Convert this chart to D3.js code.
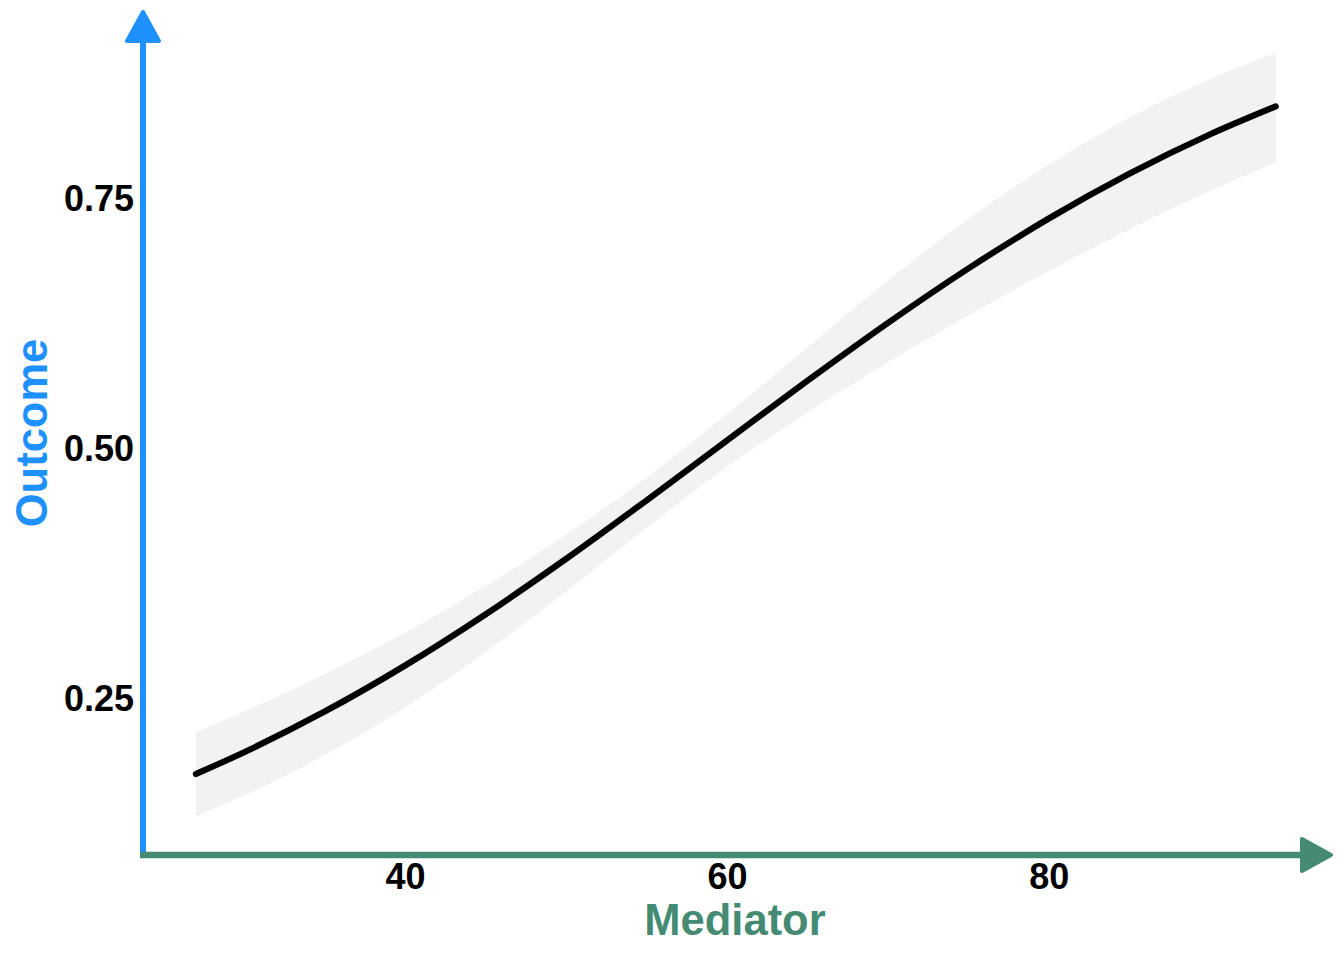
<!DOCTYPE html>
<html>
<head>
<meta charset="utf-8">
<script src="https://cdn.jsdelivr.net/npm/d3@7"></script>
<style>
  html, body { margin: 0; padding: 0; background: #ffffff; }
  svg { display: block; }
  text { font-family: "Liberation Sans", Arial, Helvetica, sans-serif; font-weight: bold; }
</style>
</head>
<body>
<svg id="chart" width="1344" height="960"></svg>
<script>
// ---- data ----
const mediator = [27, 30, 35, 40, 45, 50, 55, 60, 65, 70, 75, 80, 85, 90, 94.1];
const outcome  = [0.1740, 0.1958, 0.2364, 0.2825, 0.3337, 0.3891, 0.4476, 0.5075, 0.5672, 0.6250, 0.6795, 0.7295, 0.7742, 0.8135, 0.8416];
const lower    = [0.1319, 0.1527, 0.1930, 0.2406, 0.2960, 0.3566, 0.4201, 0.4812, 0.5355, 0.5857, 0.6328, 0.6768, 0.7187, 0.7569, 0.7857];
const upper    = [0.2158, 0.2365, 0.2740, 0.3155, 0.3621, 0.4130, 0.4703, 0.5338, 0.6008, 0.6672, 0.7289, 0.7832, 0.8302, 0.8688, 0.8948];
const xTicks = [40, 60, 80];
const yTicks = [0.25, 0.50, 0.75];
const yTickLabels = ["0.25", "0.50", "0.75"];
const xTitle = "Mediator";
const yTitle = "Outcome";

(function () {
  const svg = d3.select("#chart");
  const pLeft = 142, pRight = 1328, pTop = 14, pBottom = 854;
  const blue = "#1E90FF", green = "#458B74";
  const font = "'Liberation Sans', Arial, sans-serif";

  const x = d3.scaleLinear().domain([23.65, 97.35]).range([pLeft, pRight]);
  const y = d3.scaleLinear().domain([0.094, 0.934]).range([pBottom, pTop]);

  const rows = mediator.map((m, i) => ({ m, o: outcome[i], lo: lower[i], hi: upper[i] }));

  // confidence ribbon
  svg.append("path")
    .datum(rows)
    .attr("fill", "#f2f2f2")
    .attr("d", d3.area().x(d => x(d.m)).y0(d => y(d.lo)).y1(d => y(d.hi)).curve(d3.curveMonotoneX));

  // fitted line
  svg.append("path")
    .datum(rows)
    .attr("fill", "none")
    .attr("stroke", "#000")
    .attr("stroke-width", 6.2)
    .attr("stroke-linecap", "round")
    .attr("stroke-linejoin", "round")
    .attr("d", d3.line().x(d => x(d.m)).y(d => y(d.o)).curve(d3.curveMonotoneX));

  // y axis tick labels
  const yAxis = svg.append("g")
    .attr("transform", `translate(${pLeft},0)`)
    .call(d3.axisLeft(y).tickValues(yTicks).tickSize(0).tickPadding(8)
          .tickFormat((d, i) => yTickLabels[i]));
  yAxis.select(".domain").remove();
  yAxis.selectAll("text").attr("fill", "#000").attr("dy", "0.36em")
    .style("font-size", "36px").style("font-family", font).style("font-weight", "bold");

  // x axis tick labels
  const xAxis = svg.append("g")
    .attr("transform", "translate(0,855)")
    .call(d3.axisBottom(x).tickValues(xTicks).tickSize(0).tickPadding(8.5).tickFormat(d3.format("d")));
  xAxis.select(".domain").remove();
  xAxis.selectAll("text").attr("fill", "#000")
    .style("font-size", "36px").style("font-family", font).style("font-weight", "bold");

  // y axis line with arrow
  svg.append("line")
    .attr("x1", 143).attr("x2", 143).attr("y1", 856).attr("y2", 30)
    .attr("stroke", blue).attr("stroke-width", 6);
  svg.append("path")
    .attr("d", "M143,12 L159,41 L127,41 Z")
    .attr("fill", blue).attr("stroke", blue).attr("stroke-width", 4).attr("stroke-linejoin", "round");

  // x axis line with arrow
  svg.append("line")
    .attr("x1", 140).attr("x2", 1315).attr("y1", 855).attr("y2", 855)
    .attr("stroke", green).attr("stroke-width", 6.5);
  svg.append("path")
    .attr("d", "M1331,855 L1302,839 L1302,871 Z")
    .attr("fill", green).attr("stroke", green).attr("stroke-width", 4).attr("stroke-linejoin", "round");

  // titles
  svg.append("text")
    .attr("x", 735).attr("y", 935)
    .attr("text-anchor", "middle")
    .attr("fill", green)
    .style("font-size", "43.5px")
    .text(xTitle);

  svg.append("text")
    .attr("transform", "translate(47,433) rotate(-90)")
    .attr("text-anchor", "middle")
    .attr("fill", blue)
    .style("font-size", "43.5px")
    .text(yTitle);
})();
</script>
</body>
</html>
